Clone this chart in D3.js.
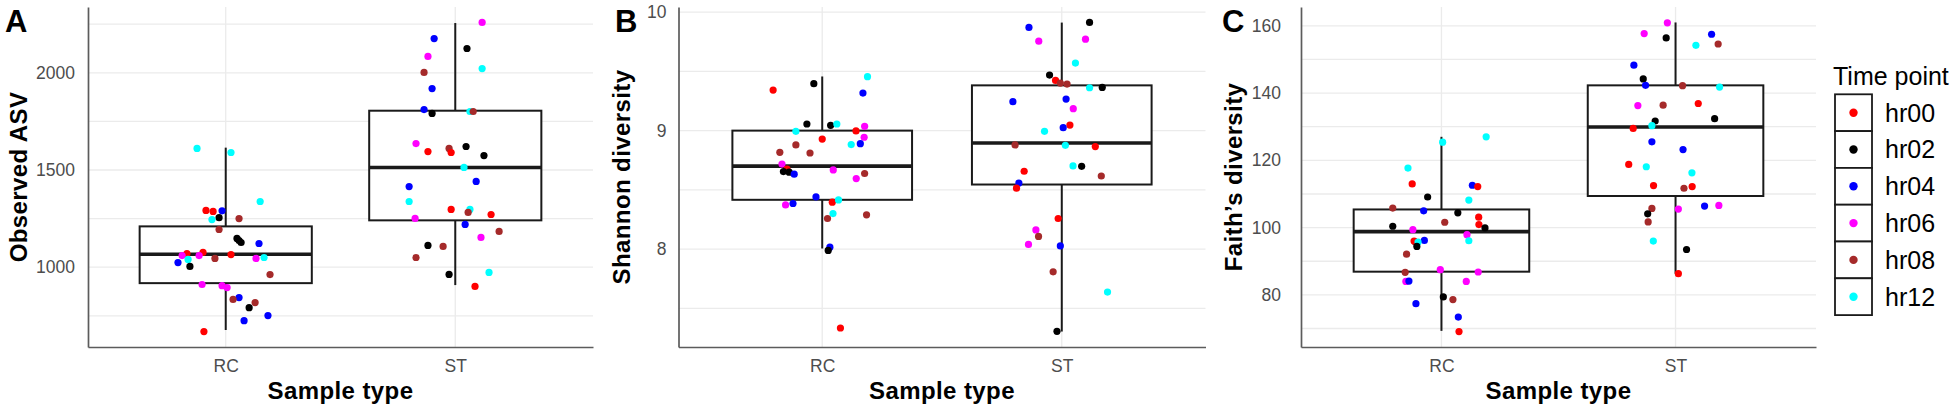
<!DOCTYPE html>
<html>
<head>
<meta charset="utf-8">
<script src="https://cdn.jsdelivr.net/npm/d3@7"></script>
<style>
  body { margin: 0; background: #fff; }
  svg { display: block; font-family: 'Liberation Sans', Arial, sans-serif; }
</style>
</head>
<body>
<div id="chart"></div>
<script>
const categories = ['RC', 'ST'];
const timePoints = ['hr00', 'hr02', 'hr04', 'hr06', 'hr08', 'hr12'];
const timeColors = ['#ff0000', '#000000', '#0000ff', '#ff00ff', '#a52a2a', '#00ffff'];

// y tick values (major labelled, minor grid only)
const asvTicks = [1000, 1500, 2000];
const asvMinor = [750, 1250, 1750, 2250];
const shannonTicks = [8, 9, 10];
const shannonMinor = [7.5, 8.5, 9.5];
const faithTicks = [80, 100, 120, 140, 160];
const faithMinor = [70, 90, 110, 130, 150];

// box stats: [lower whisker, q1, median, q3, upper whisker]
const asvBoxRC = [677, 918, 1067, 1210, 1615];
const asvBoxST = [908, 1241, 1513, 1805, 2256];
const shannonBoxRC = [8.005, 8.416, 8.700, 9.000, 9.457];
const shannonBoxST = [7.304, 8.545, 8.896, 9.382, 9.912];
const faithBoxRC = [69.3, 86.9, 98.8, 105.4, 127.0];
const faithBoxST = [86.3, 109.4, 129.9, 142.3, 161.0];

// samples: [time point, value, horizontal jitter in category units]
const asvRC = [
  ['hr12', 1611, -0.125], ['hr12', 1590, 0.023], ['hr12', 1338, 0.150], ['hr00', 1292, -0.086],
  ['hr00', 1287, -0.055], ['hr04', 1290, -0.016], ['hr02', 1255, -0.029], ['hr12', 1245, -0.060],
  ['hr08', 1250, 0.058], ['hr08', 1194, -0.029], ['hr02', 1148, 0.049], ['hr02', 1137, 0.058],
  ['hr02', 1127, 0.067], ['hr04', 1122, 0.145], ['hr00', 1070, -0.169], ['hr06', 1060, -0.190],
  ['hr00', 1076, -0.099], ['hr06', 1060, -0.116], ['hr08', 1045, -0.047], ['hr00', 1065, 0.023],
  ['hr06', 1045, 0.132], ['hr12', 1050, 0.167], ['hr12', 1040, -0.164], ['hr04', 1024, -0.208],
  ['hr02', 1004, -0.156], ['hr08', 962, 0.193], ['hr06', 911, -0.103], ['hr06', 905, -0.016],
  ['hr06', 895, 0.006], ['hr04', 844, 0.058], ['hr08', 834, 0.032], ['hr08', 818, 0.128],
  ['hr02', 792, 0.102], ['hr04', 751, 0.184], ['hr04', 725, 0.080], ['hr00', 669, -0.095]
];
const asvST = [
  ['hr06', 2259, 0.117], ['hr04', 2176, -0.092], ['hr02', 2125, 0.051], ['hr06', 2084, -0.119],
  ['hr12', 2022, 0.117], ['hr08', 2002, -0.136], ['hr04', 1919, -0.101], ['hr04', 1811, -0.136],
  ['hr02', 1791, -0.101], ['hr12', 1801, 0.064], ['hr08', 1801, 0.078], ['hr06', 1636, -0.171],
  ['hr00', 1595, -0.119], ['hr08', 1611, -0.027], ['hr00', 1590, -0.018], ['hr02', 1621, 0.047],
  ['hr02', 1574, 0.125], ['hr12', 1513, 0.038], ['hr04', 1415, -0.201], ['hr04', 1441, 0.091],
  ['hr12', 1338, -0.201], ['hr00', 1297, -0.018], ['hr12', 1297, 0.064], ['hr08', 1282, 0.056],
  ['hr00', 1271, 0.156], ['hr06', 1251, -0.175], ['hr04', 1220, 0.043], ['hr08', 1184, 0.191],
  ['hr06', 1153, 0.112], ['hr02', 1112, -0.119], ['hr08', 1107, -0.053], ['hr08', 1050, -0.171],
  ['hr02', 963, -0.027], ['hr12', 973, 0.147], ['hr00', 901, 0.086]
];
const shannonRC = [
  ['hr00', 9.342, -0.205], ['hr02', 9.396, -0.035], ['hr12', 9.455, 0.189], ['hr04', 9.317, 0.170],
  ['hr02', 9.056, -0.064], ['hr02', 9.045, 0.035], ['hr12', 9.056, 0.061], ['hr06', 9.036, 0.177],
  ['hr00', 8.997, 0.141], ['hr12', 8.994, -0.110], ['hr06', 8.944, 0.175], ['hr00', 8.929, 0.000],
  ['hr08', 8.879, -0.110], ['hr12', 8.882, 0.121], ['hr04', 8.890, 0.159], ['hr08', 8.817, -0.177],
  ['hr08', 8.811, -0.051], ['hr06', 8.718, -0.168], ['hr00', 8.676, -0.147], ['hr02', 8.654, -0.162],
  ['hr02', 8.649, -0.138], ['hr04', 8.632, -0.117], ['hr06', 8.668, 0.046], ['hr08', 8.638, 0.177],
  ['hr06', 8.595, 0.142], ['hr04', 8.440, -0.026], ['hr00', 8.396, 0.042], ['hr12', 8.415, 0.068],
  ['hr06', 8.373, -0.153], ['hr04', 8.385, -0.122], ['hr12', 8.300, 0.045], ['hr08', 8.258, 0.022],
  ['hr08', 8.289, 0.185], ['hr04', 8.016, 0.032], ['hr02', 7.989, 0.025], ['hr00', 7.334, 0.076]
];
const shannonST = [
  ['hr04', 9.871, -0.137], ['hr02', 9.913, 0.116], ['hr06', 9.755, -0.096], ['hr06', 9.772, 0.099],
  ['hr12', 9.570, 0.057], ['hr02', 9.469, -0.051], ['hr00', 9.424, -0.026], ['hr08', 9.401, -0.006],
  ['hr08', 9.393, 0.022], ['hr12', 9.362, 0.116], ['hr02', 9.365, 0.169], ['hr04', 9.244, -0.204],
  ['hr04', 9.266, 0.018], ['hr06', 9.185, 0.048], ['hr00', 9.047, 0.034], ['hr04', 9.025, 0.006],
  ['hr12', 8.994, -0.072], ['hr08', 8.879, -0.195], ['hr12', 8.876, 0.015], ['hr00', 8.865, 0.140],
  ['hr12', 8.702, 0.047], ['hr02', 8.699, 0.083], ['hr00', 8.657, -0.157], ['hr08', 8.617, 0.165],
  ['hr04', 8.558, -0.179], ['hr00', 8.514, -0.189], ['hr00', 8.258, -0.015], ['hr06', 8.162, -0.108],
  ['hr08', 8.107, -0.097], ['hr06', 8.039, -0.139], ['hr04', 8.027, -0.006], ['hr08', 7.808, -0.036],
  ['hr12', 7.637, 0.191], ['hr02', 7.306, -0.020]
];
const faithRC = [
  ['hr12', 127.0, 0.191], ['hr12', 125.4, 0.005], ['hr12', 117.7, -0.143], ['hr00', 113.0, -0.125],
  ['hr04', 112.6, 0.132], ['hr00', 112.2, 0.155], ['hr02', 109.1, -0.059], ['hr12', 108.2, 0.117],
  ['hr08', 105.8, -0.208], ['hr04', 105.0, -0.076], ['hr02', 104.4, 0.070], ['hr00', 103.1, 0.159],
  ['hr08', 101.6, 0.014], ['hr00', 100.9, 0.160], ['hr02', 100.4, -0.208], ['hr02', 99.9, 0.186],
  ['hr06', 99.4, -0.122], ['hr06', 97.9, 0.109], ['hr08', 95.8, -0.113], ['hr00', 96.0, -0.117],
  ['hr04', 96.2, -0.073], ['hr12', 95.7, -0.100], ['hr12', 96.1, 0.117], ['hr02', 94.4, -0.105],
  ['hr08', 92.1, -0.149], ['hr06', 87.5, -0.005], ['hr06', 86.8, 0.157], ['hr08', 86.7, -0.155],
  ['hr06', 84.0, -0.152], ['hr04', 84.1, -0.139], ['hr06', 84.0, 0.106], ['hr02', 79.4, 0.008],
  ['hr08', 78.6, 0.049], ['hr04', 77.4, -0.109], ['hr04', 73.4, 0.072], ['hr00', 69.1, 0.075]
];
const faithST = [
  ['hr06', 160.9, -0.035], ['hr06', 157.7, -0.134], ['hr02', 156.4, -0.040], ['hr04', 157.5, 0.154],
  ['hr12', 154.2, 0.087], ['hr08', 154.6, 0.182], ['hr04', 148.3, -0.178], ['hr02', 144.2, -0.138],
  ['hr04', 142.3, -0.128], ['hr08', 142.2, 0.030], ['hr12', 141.8, 0.188], ['hr06', 136.3, -0.161],
  ['hr08', 136.4, -0.053], ['hr00', 136.9, 0.097], ['hr02', 131.7, -0.087], ['hr02', 132.4, 0.167],
  ['hr12', 130.3, -0.101], ['hr00', 129.5, -0.181], ['hr04', 125.5, -0.101], ['hr04', 123.2, 0.032],
  ['hr00', 118.8, -0.200], ['hr12', 118.1, -0.125], ['hr12', 116.3, 0.070], ['hr00', 112.5, -0.094],
  ['hr08', 111.7, 0.036], ['hr00', 112.2, 0.071], ['hr08', 105.7, -0.101], ['hr06', 105.5, 0.012],
  ['hr04', 106.4, 0.124], ['hr06', 106.6, 0.185], ['hr02', 104.1, -0.119], ['hr08', 101.7, -0.117],
  ['hr12', 96.0, -0.095], ['hr02', 93.5, 0.047], ['hr00', 86.3, 0.012]
];


const width = 1954;
const height = 410;
const panelTop = 7;
const panelBottom = 347;

const svg = d3.select('#chart')
  .append('svg')
  .attr('width', width)
  .attr('height', height);

const colour = d3.scaleOrdinal().domain(timePoints).range(timeColors);


function drawPanel ({ tag, tagX, left, right, yTitle, yTitleX, labelGap, ticks, minor, groups, boxes }) {
  const x = d3.scalePoint().domain(categories).range([left, right]).padding(0.6);
  const step = x.step();

  // ggplot style 5% expansion of the data range
  const values = groups.flat().map(d => d[1]).concat(boxes.flat());
  const [lo, hi] = d3.extent(values);
  const pad = (hi - lo) * 0.05;
  const y = d3.scaleLinear().domain([lo - pad, hi + pad]).range([panelBottom, panelTop]);

  const g = svg.append('g');

  // grid
  g.append('g')
    .selectAll('line')
    .data(minor.concat(ticks))
    .join('line')
    .attr('x1', left)
    .attr('x2', right)
    .attr('y1', d => y(d))
    .attr('y2', d => y(d))
    .attr('stroke', '#ebebeb')
    .attr('stroke-width', 1.3);

  g.append('g')
    .selectAll('line')
    .data(categories)
    .join('line')
    .attr('x1', d => x(d))
    .attr('x2', d => x(d))
    .attr('y1', panelTop)
    .attr('y2', panelBottom)
    .attr('stroke', '#ebebeb')
    .attr('stroke-width', 1.3);

  // boxplots
  const box = g.append('g')
    .selectAll('g')
    .data(categories.map((c, i) => ({ c, s: boxes[i] })))
    .join('g')
    .attr('stroke', '#1a1a1a');

  box.append('line')
    .attr('x1', d => x(d.c)).attr('x2', d => x(d.c))
    .attr('y1', d => y(d.s[0])).attr('y2', d => y(d.s[1]))
    .attr('stroke-width', 2);

  box.append('line')
    .attr('x1', d => x(d.c)).attr('x2', d => x(d.c))
    .attr('y1', d => y(d.s[3])).attr('y2', d => y(d.s[4]))
    .attr('stroke-width', 2);

  box.append('rect')
    .attr('x', d => x(d.c) - step * 0.375)
    .attr('width', step * 0.75)
    .attr('y', d => y(d.s[3]))
    .attr('height', d => y(d.s[1]) - y(d.s[3]))
    .attr('fill', '#fff')
    .attr('stroke-width', 2);

  box.append('line')
    .attr('x1', d => x(d.c) - step * 0.375)
    .attr('x2', d => x(d.c) + step * 0.375)
    .attr('y1', d => y(d.s[2])).attr('y2', d => y(d.s[2]))
    .attr('stroke-width', 3.6);

  // jittered samples
  const points = categories.flatMap((c, i) => groups[i].map(d => ({ c, t: d[0], v: d[1], j: d[2] })));
  g.append('g')
    .selectAll('circle')
    .data(points)
    .join('circle')
    .attr('cx', d => x(d.c) + d.j * step)
    .attr('cy', d => y(d.v))
    .attr('r', 3.6)
    .attr('fill', d => colour(d.t));

  // axes
  const yAxis = g.append('g')
    .attr('transform', `translate(${left},0)`)
    .call(d3.axisLeft(y).tickValues(ticks).tickFormat(d3.format('~g')).tickSize(0).tickPadding(labelGap));

  const xAxis = g.append('g')
    .attr('transform', `translate(0,${panelBottom})`)
    .call(d3.axisBottom(x).tickSize(0).tickPadding(12.5));

  [yAxis, xAxis].forEach(a => {
    a.select('.domain').attr('stroke', '#5c5c5c').attr('stroke-width', 1.7);
    a.selectAll('text')
      .attr('fill', '#4d4d4d')
      .style('font-size', '17.5px')
      .style('font-family', "'Liberation Sans', Arial, sans-serif");
  });

  // titles
  g.append('text')
    .attr('x', (left + right) / 2)
    .attr('y', 399)
    .attr('text-anchor', 'middle')
    .style('font-size', '24px')
    .style('font-weight', 'bold')
    .style('letter-spacing', '0.4px')
    .text('Sample type');

  g.append('text')
    .attr('transform', `translate(${yTitleX},${(panelTop + panelBottom) / 2}) rotate(-90)`)
    .attr('text-anchor', 'middle')
    .style('font-size', '24px')
    .style('font-weight', 'bold')
    .style('letter-spacing', '0.4px')
    .text(yTitle);

  g.append('text')
    .attr('x', tagX)
    .attr('y', 32)
    .style('font-size', '31px')
    .style('font-weight', 'bold')
    .text(tag);
}


drawPanel({
  tag: 'A', tagX: 5, left: 88, right: 593,
  yTitle: 'Observed ASV', yTitleX: 27, labelGap: 13,
  ticks: asvTicks, minor: asvMinor,
  groups: [asvRC, asvST], boxes: [asvBoxRC, asvBoxST]
});

drawPanel({
  tag: 'B', tagX: 615, left: 678.5, right: 1205.5,
  yTitle: 'Shannon diversity', yTitleX: 630, labelGap: 12,
  ticks: shannonTicks, minor: shannonMinor,
  groups: [shannonRC, shannonST], boxes: [shannonBoxRC, shannonBoxST]
});

drawPanel({
  tag: 'C', tagX: 1222, left: 1301, right: 1816,
  yTitle: 'Faith\u2019s diversity', yTitleX: 1242, labelGap: 20,
  ticks: faithTicks, minor: faithMinor,
  groups: [faithRC, faithST], boxes: [faithBoxRC, faithBoxST]
});


// legend
const legend = svg.append('g').attr('transform', 'translate(1835,0)');
const keySize = 36.8;
const keyTop = 94.3;

legend.append('text')
  .attr('x', -2)
  .attr('y', 85)
  .style('font-size', '25px')
  .text('Time point');

const key = legend.selectAll('g.key')
  .data(timePoints)
  .join('g')
  .attr('class', 'key')
  .attr('transform', (d, i) => `translate(0,${keyTop + i * keySize})`);

key.append('rect')
  .attr('width', 37)
  .attr('height', keySize)
  .attr('fill', '#fff')
  .attr('stroke', '#1a1a1a')
  .attr('stroke-width', 1.8);

key.append('circle')
  .attr('cx', 18.5)
  .attr('cy', keySize / 2)
  .attr('r', 4.2)
  .attr('fill', d => colour(d));

key.append('text')
  .attr('x', 50)
  .attr('y', keySize / 2 + 9)
  .style('font-size', '25px')
  .text(d => d);
</script>
</body>
</html>
